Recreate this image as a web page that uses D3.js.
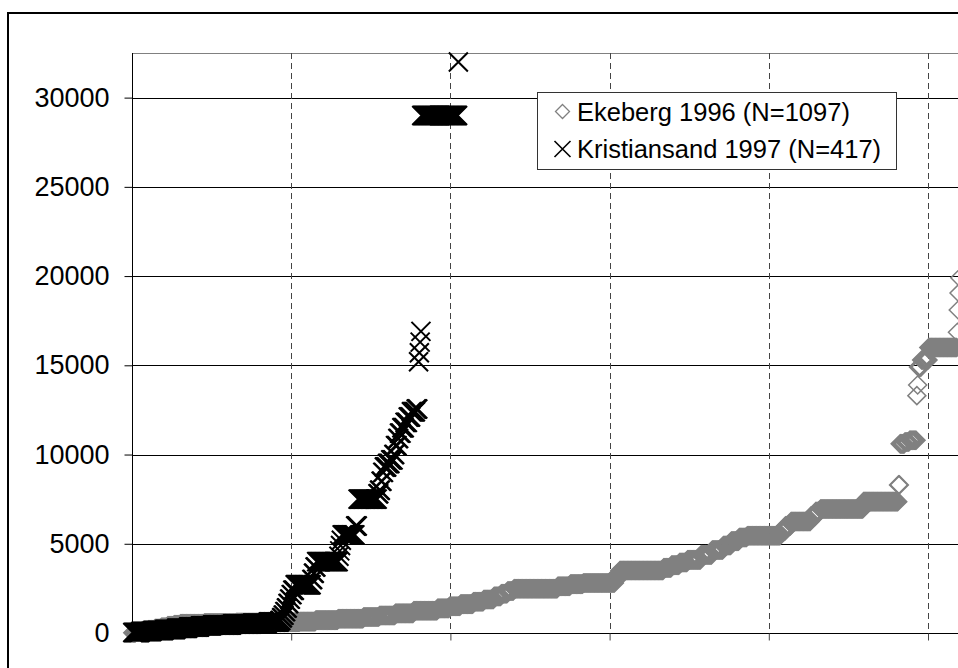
<!DOCTYPE html>
<html>
<head>
<meta charset="utf-8">
<script src="https://cdn.jsdelivr.net/npm/d3@7"></script>
<style>
  html, body { margin: 0; padding: 0; background: #fff; }
  svg { display: block; font-family: "Liberation Sans", Arial, Helvetica, sans-serif; }
</style>
</head>
<body>
<svg id="chart" width="958" height="668"></svg>
<script>
// Sorted measurements per site, stored as runs of [count, value]
// (many consecutive ranks share the same value).
const ekebergRuns = [
  [4, 10], [8, 60], [8, 120], [8, 180], [8, 250], [8, 320], [8, 400], [8, 460],
  [30, 520], [40, 560], [40, 580], [40, 600],
  [20, 640], [28, 720], [32, 800], [20, 900], [20, 980], [23, 1100], [30, 1250],
  [15, 1380], [14, 1500], [16, 1620], [13, 1750], [13, 1880], [9, 2050], [8, 2200],
  [8, 2350], [55, 2480], [16, 2620], [16, 2740], [40, 2800], [3, 3000], [3, 3300],
  [55, 3500], [10, 3650], [10, 3800], [10, 3950], [17, 4100], [14, 4380], [14, 4650],
  [10, 4900], [10, 5150], [10, 5350], [42, 5450], [6, 5700], [7, 6000], [25, 6250],
  [6, 6550], [6, 6800], [54, 6950], [44, 7360], [2, 8300], [6, 10600], [6, 10700],
  [9, 10800], [1, 13300], [1, 13900], [4, 14900], [9, 15300], [36, 16000],
  [1, 16850], [1, 18100], [1, 19050], [1, 19900]
];

const kristiansandRuns = [
  [10, 30], [15, 80], [15, 140], [15, 200], [15, 270], [15, 340], [15, 400],
  [25, 450], [25, 500], [20, 550], [15, 620],
  [2, 700], [2, 850], [2, 1000], [2, 1200], [2, 1400], [2, 1650], [2, 1900],
  [2, 2150], [3, 2400], [21, 2700], [2, 3000], [2, 3350], [2, 3700], [28, 4000],
  [1, 4300], [1, 4600], [1, 4900], [1, 5200], [17, 5500], [3, 6000], [25, 7500],
  [2, 7800], [2, 8000], [2, 8500], [2, 9000], [4, 9300], [4, 9500], [4, 9700],
  [2, 10000], [3, 10500], [2, 10900], [3, 11200], [4, 11500], [4, 11800],
  [4, 12100], [6, 12400], [3, 12550], [1, 15200], [1, 15700], [1, 16300],
  [1, 16900], [46, 29000], [1, 32000]
];

const seriesNames = ["Ekeberg 1996 (N=1097)", "Kristiansand 1997 (N=417)"];
const yTicks = [0, 5000, 10000, 15000, 20000, 25000, 30000];
const xGridValues = [200, 400, 600, 800, 1000];

// Expand runs into ranked points (rank 1..N).
function expand(runs) {
  const pts = [];
  runs.forEach(([n, v]) => { for (let k = 0; k < n; k++) pts.push(v); });
  return pts.map((v, k) => ({ rank: k + 1, value: v }));
}
const ekeberg = expand(ekebergRuns);
const kristiansand = expand(kristiansandRuns);

const svg = d3.select("#chart");
const W = 958;

// Plot area geometry
const plotLeft = 132, plotTop = 53, plotBottom = 633;
const x = d3.scaleLinear().domain([0, 1200]).range([plotLeft, plotLeft + 6 * 159.2]);
const y = d3.scaleLinear().domain([0, 32500]).range([plotBottom, plotTop]);
const px = v => Math.round(v) + 0.5;

// Outer chart frame
svg.append("rect")
  .attr("x", 8).attr("y", 13).attr("width", 1000).attr("height", 700)
  .attr("fill", "#fff").attr("stroke", "#000").attr("stroke-width", 2);

// Plot area border (gray)
svg.append("rect")
  .attr("x", plotLeft + 0.5).attr("y", plotTop + 0.5)
  .attr("width", 1000).attr("height", plotBottom - plotTop)
  .attr("fill", "#fff").attr("stroke", "#808080").attr("stroke-width", 1);

// Horizontal solid gridlines
svg.append("g").selectAll("line")
  .data(yTicks.filter(d => d > 0))
  .join("line")
  .attr("x1", plotLeft).attr("x2", W)
  .attr("y1", d => px(y(d))).attr("y2", d => px(y(d)))
  .attr("stroke", "#000").attr("stroke-width", 1);

// Vertical dashed gridlines
svg.append("g").selectAll("line")
  .data(xGridValues)
  .join("line")
  .attr("x1", d => px(x(d))).attr("x2", d => px(x(d)))
  .attr("y1", plotTop).attr("y2", plotBottom)
  .attr("stroke", "#444").attr("stroke-width", 1)
  .attr("stroke-dasharray", "6,4");

// Y axis with outward ticks
const yAxis = d3.axisLeft(y).tickValues(yTicks).tickSize(8).tickPadding(15)
  .tickFormat(d3.format("d"));
const gy = svg.append("g").attr("transform", `translate(${plotLeft + 0.5},0)`).call(yAxis);
gy.select(".domain").attr("stroke", "#000").attr("d", `M0,${plotTop}V${plotBottom}`);
gy.selectAll(".tick line").attr("stroke", "#000");
gy.selectAll(".tick text")
  .attr("font-size", 27).attr("fill", "#000")
  .attr("font-family", '"Liberation Sans", Arial, sans-serif');

// X axis line with short ticks at the gridlines (no labels)
const xAxis = d3.axisBottom(x).tickValues(xGridValues).tickSize(7).tickFormat("");
const gx = svg.append("g").attr("transform", `translate(0,${px(plotBottom)})`).call(xAxis);
gx.select(".domain").attr("stroke", "#000").attr("d", `M${plotLeft},0H${W}`);
gx.selectAll(".tick line").attr("stroke", "#444");

// Markers
const diamond = "M0,-9L9,0L0,9L-9,0Z";
const cross = "M-9.5,-9.5L9.5,9.5M-9.5,9.5L9.5,-9.5";

svg.append("g").selectAll("path")
  .data(ekeberg)
  .join("path")
  .attr("transform", d => `translate(${x(d.rank)},${y(d.value)})`)
  .attr("d", diamond)
  .attr("fill", "none").attr("stroke", "#808080").attr("stroke-width", 1.5);

svg.append("g").selectAll("path")
  .data(kristiansand)
  .join("path")
  .attr("transform", d => `translate(${x(d.rank)},${y(d.value)})`)
  .attr("d", cross)
  .attr("fill", "none").attr("stroke", "#000").attr("stroke-width", 2);

// Legend
const lg = svg.append("g");
lg.append("rect")
  .attr("x", 537.5).attr("y", 92.5).attr("width", 359).attr("height", 77)
  .attr("fill", "#fff").attr("stroke", "#333").attr("stroke-width", 1);

const legendRows = [
  { name: seriesNames[0], cy: 111.5, shape: "M0,-7L7,0L0,7L-7,0Z", stroke: "#808080", sw: 1.3 },
  { name: seriesNames[1], cy: 149, shape: "M-8,-8L8,8M-8,8L8,-8", stroke: "#000", sw: 1.6 }
];
legendRows.forEach(r => {
  lg.append("path")
    .attr("transform", `translate(562.5,${r.cy})`)
    .attr("d", r.shape).attr("fill", "none")
    .attr("stroke", r.stroke).attr("stroke-width", r.sw);
  lg.append("text")
    .attr("x", 577).attr("y", r.cy).attr("dy", "0.36em")
    .attr("font-size", 25.5).attr("fill", "#000")
    .text(r.name);
});
</script>
</body>
</html>
